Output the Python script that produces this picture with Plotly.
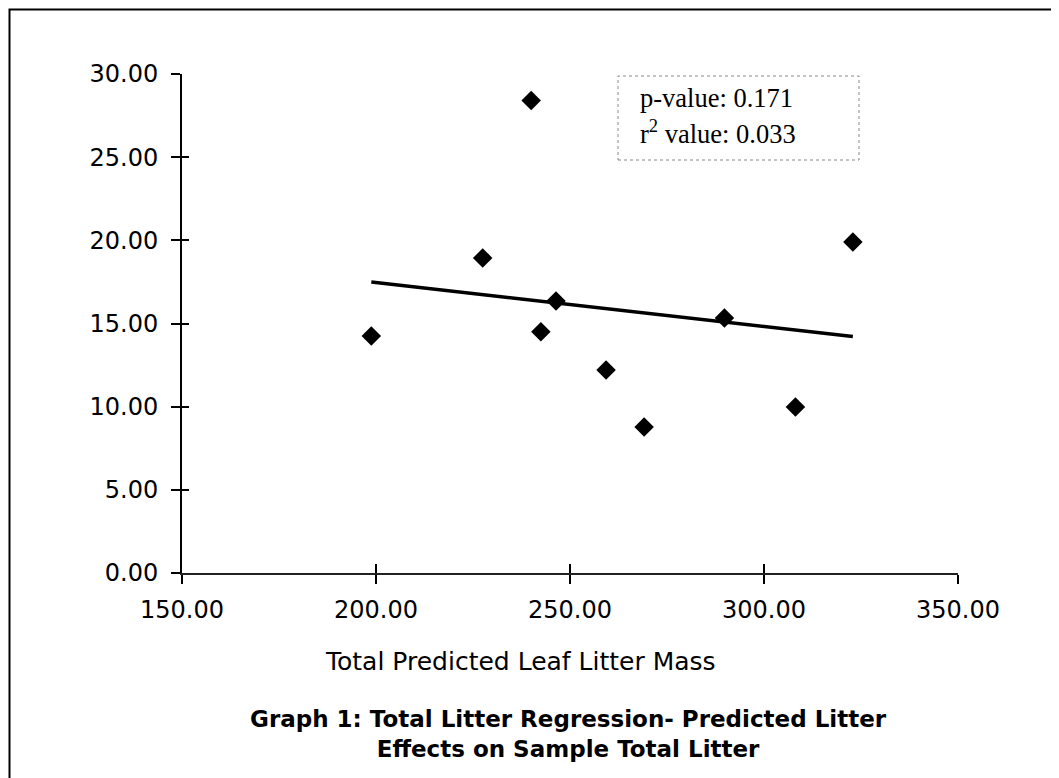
import numpy as np
import plotly.graph_objects as go

# Data
predicted_mass = [198.8, 227.5, 240.0, 242.5, 246.4, 259.3, 269.1, 289.8, 308.1, 322.9]
sample_litter = [14.25, 18.94, 28.40, 14.50, 16.35, 12.20, 8.78, 15.33, 9.98, 19.90]
x_ticks = [150, 200, 250, 300, 350]
y_ticks = [0, 5, 10, 15, 20, 25, 30]
stats_lines = ["p-value: 0.171", "r<sup>2</sup> value: 0.033"]

slope, intercept = np.polyfit(predicted_mass, sample_litter, 1)
fit_x = [min(predicted_mass), max(predicted_mass)]
fit_y = [slope * v + intercept for v in fit_x]

OFF = 8  # page body margin
W, H = 1051, 770
L, T = 174, 66
pw, ph = 776, 499
R, B = W - L - pw, H - T - ph

def px(xs):
    return (xs - OFF - L) / pw

def py(ys):
    return (T + OFF + ph - ys) / ph

fig = go.Figure()
fig.add_trace(go.Scatter(x=fit_x, y=fit_y, mode="lines",
                         line=dict(color="black", width=3.5), showlegend=False, hoverinfo="skip"))
fig.add_trace(go.Scatter(x=predicted_mass, y=sample_litter, mode="markers",
                         marker=dict(symbol="diamond", size=15, color="black"),
                         showlegend=False))
fig.add_trace(go.Scatter(x=[None], y=[None], xaxis="x2", yaxis="y2", showlegend=False))

tickfont = dict(family="DejaVu Sans", size=24, color="black")
fig.update_layout(
    width=W, height=H, autosize=False,
    margin=dict(l=L, r=R, t=T, b=B, pad=0),
    plot_bgcolor="white", paper_bgcolor="white",
    xaxis=dict(range=[150, 350], tickvals=x_ticks, tickformat=".2f", showgrid=False,
               zeroline=False, showline=True, linecolor="#222222", linewidth=1.5,
               ticks="outside", ticklen=9, tickwidth=1.5, tickcolor="black",
               tickfont=tickfont, ticklabelstandoff=5, fixedrange=True),
    yaxis=dict(range=[0, 30], tickvals=y_ticks, tickformat=".2f", showgrid=False,
               zeroline=False, showline=True, linecolor="black", linewidth=2,
               ticks="outside", ticklen=9, tickwidth=1.5, tickcolor="black",
               tickfont=tickfont, ticklabelstandoff=8, fixedrange=True),
    xaxis2=dict(range=[150, 350], tickvals=x_ticks, overlaying="x", anchor="y2", side="bottom",
                showgrid=False, zeroline=False, showline=False, showticklabels=False,
                ticks="inside", ticklen=9, tickwidth=1.5, tickcolor="black", fixedrange=True),
    yaxis2=dict(range=[0, 30], tickvals=y_ticks, overlaying="y", anchor="x2", side="left",
                showgrid=False, zeroline=False, showline=False, showticklabels=False,
                ticks="inside", ticklen=7, tickwidth=1.5, tickcolor="black", fixedrange=True),
)

# stats box
fig.add_shape(type="rect", xref="paper", yref="paper",
              x0=px(618), x1=px(859), y0=py(160), y1=py(76),
              line=dict(color="#888888", width=1, dash="dot"), fillcolor="rgba(0,0,0,0)")
for txt, ypix in zip(stats_lines, [98, 132]):
    fig.add_annotation(text=txt, xref="paper", yref="paper", x=px(638), y=py(ypix),
                       xanchor="left", yanchor="middle", showarrow=False,
                       font=dict(family="Liberation Serif", size=26.5, color="black"))

# axis title
fig.add_annotation(text="Total Predicted Leaf Litter Mass", xref="paper", yref="paper",
                   x=px(323), y=py(661), xanchor="left", yanchor="middle", showarrow=False,
                   font=dict(family="DejaVu Sans", size=25, color="black"))
# chart title
fig.add_annotation(text="<b>Graph 1: Total Litter Regression- Predicted Litter<br>Effects on Sample Total Litter</b>",
                   xref="paper", yref="paper", x=px(568), y=py(734), xanchor="center",
                   yanchor="middle", showarrow=False, align="center",
                   font=dict(family="DejaVu Sans", size=23, color="black"))

# outer frame (left and top edges visible)
fig.add_shape(type="rect", xref="paper", yref="paper",
              x0=px(9.5), x1=px(1100), y0=py(820), y1=py(9.5),
              line=dict(color="black", width=2))

fig.write_html("out.html")
